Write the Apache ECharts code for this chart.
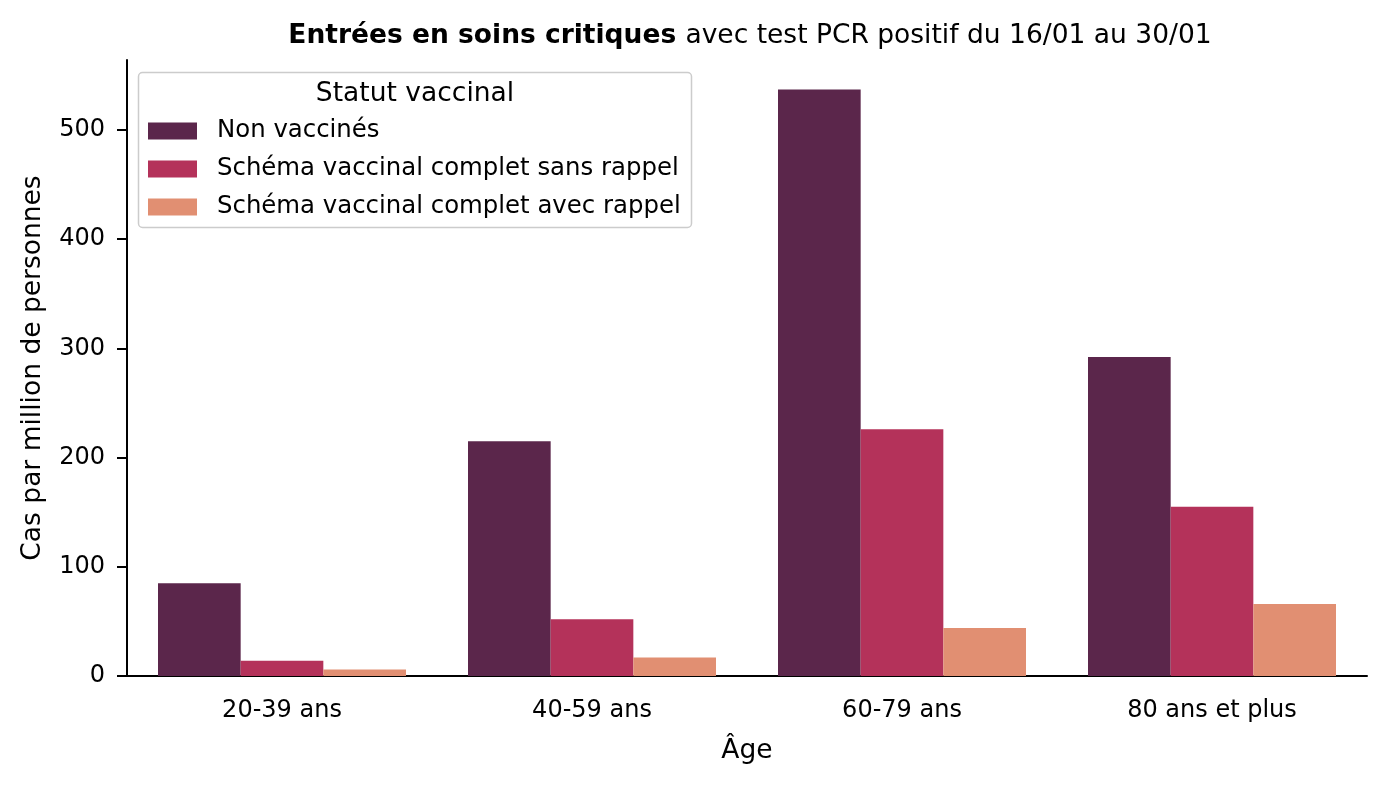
<!DOCTYPE html>
<html>
<head>
<meta charset="utf-8">
<script src="https://cdn.jsdelivr.net/npm/echarts@6/dist/echarts.min.js"></script>
<style>
html,body{margin:0;padding:0;background:#fff;}
#chart{width:1386px;height:785px;}
</style>
</head>
<body>
<div id="chart"></div>
<script>
const categories = ['20-39 ans', '40-59 ans', '60-79 ans', '80 ans et plus'];
const seriesNames = ['Non vaccinés', 'Schéma vaccinal complet sans rappel', 'Schéma vaccinal complet avec rappel'];
const nonVaccines = [85, 215, 537, 292];
const sansRappel = [14, 52, 226, 155];
const avecRappel = [6, 17, 44, 66];
const yTicks = [0, 100, 200, 300, 400, 500];
const colors = ['#5b264b', '#b4325a', '#e18f72'];

const FONT = 'DejaVu Sans';
const chart = echarts.init(document.getElementById('chart'), null, {renderer: 'canvas'});
const seriesData = [nonVaccines, sansRappel, avecRappel];

chart.setOption({
  animation: false,
  backgroundColor: '#ffffff',
  textStyle: {fontFamily: FONT, color: '#000'},
  title: {
    text: '{b|Entrées en soins critiques }{n|avec test PCR positif du 16/01 au 30/01}',
    left: 745, top: 18, textAlign: 'center',
    textStyle: {
      rich: {
        b: {fontFamily: FONT, fontWeight: 'bold', fontSize: 26.5, color: '#000'},
        n: {fontFamily: FONT, fontWeight: 'normal', fontSize: 26.5, color: '#000'}
      }
    }
  },
  grid: {left: 127, right: 19, top: 60, bottom: 109, containLabel: false},
  legend: {
    z: 10,
    orient: 'vertical', left: 143, top: 114,
    itemWidth: 49, itemHeight: 17, itemGap: 14,
    icon: 'rect',
    textStyle: {fontFamily: FONT, fontSize: 24.4, color: '#000', padding: [0, 0, 0, 15]},
    data: seriesNames
  },
  graphic: [
    {type: 'rect', z: 5, shape: {x: 138.5, y: 72.5, width: 553, height: 155, r: 4},
     style: {fill: 'rgba(255,255,255,0.8)', stroke: '#cccccc', lineWidth: 1.5}},
    {type: 'text', z: 6, x: 415, y: 94, style: {text: 'Statut vaccinal', fontFamily: FONT, fontSize: 26.5, fill: '#000', align: 'center', verticalAlign: 'middle'}}
  ],
  xAxis: {
    type: 'category', data: categories,
    name: 'Âge', nameLocation: 'middle', nameGap: 62,
    nameTextStyle: {fontFamily: FONT, fontSize: 26.5, color: '#000'},
    axisLine: {lineStyle: {color: '#000', width: 2}},
    axisTick: {alignWithLabel: true, length: 10, lineStyle: {color: '#000', width: 2}},
    axisLabel: {fontFamily: FONT, fontSize: 24, color: '#000', margin: 23}
  },
  yAxis: {
    type: 'value', min: 0, max: 564, interval: 100,
    name: 'Cas par million de personnes', nameLocation: 'middle', nameGap: 80,
    nameTextStyle: {fontFamily: FONT, fontSize: 26.5, color: '#000'},
    splitLine: {show: false},
    axisLine: {show: true, lineStyle: {color: '#000', width: 2}},
    axisTick: {show: true, length: 10, lineStyle: {color: '#000', width: 2}, customValues: yTicks},
    axisLabel: {fontFamily: FONT, fontSize: 24, color: '#000', margin: 22, customValues: yTicks}
  },
  series: seriesNames.map((n, i) => ({
    name: n, type: 'bar', data: seriesData[i],
    barGap: '0%', barCategoryGap: '20%',
    itemStyle: {color: colors[i]}
  }))
});
</script>
</body>
</html>
